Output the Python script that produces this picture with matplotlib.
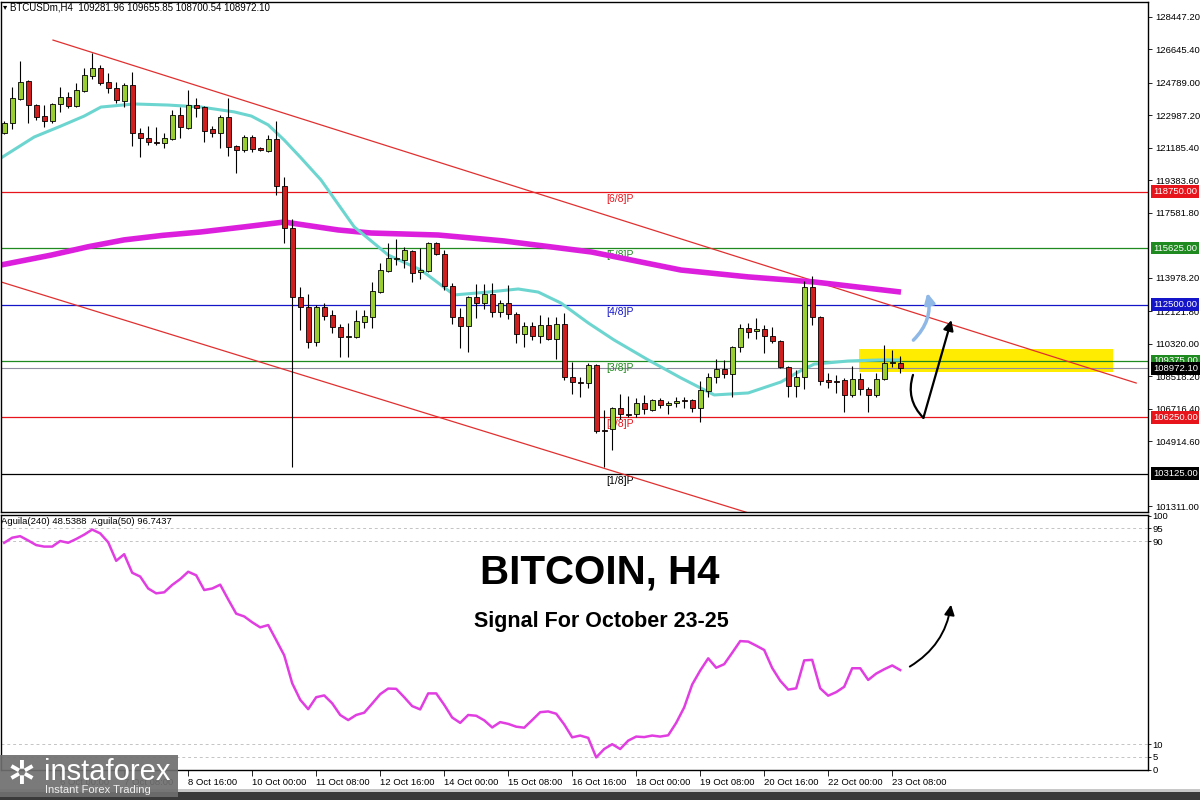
import matplotlib
matplotlib.use("Agg")
import matplotlib.pyplot as plt
import matplotlib.patches as mpatches
import matplotlib.transforms as mtransforms
import numpy as np

# ── OHLC (H4 bars, 4 Oct 20:00 .. 23 Oct 12:00) ─────────────────────────────
OPEN = [122020, 122560, 123890, 124880, 123550, 122940, 122670, 123610, 124000, 123500,
        124330, 125160, 125600, 124830, 124500, 123780, 124660, 122000, 121730, 121500,
        121450, 121670, 123000, 122280, 123550, 123440, 122220, 122000, 122890, 121280,
        121060, 121780, 121170, 121000, 121670, 119070, 116740, 112920, 112360, 110420,
        112360, 111920, 111250, 110700, 110700, 111530, 111810, 113190, 114360, 115020,
        114970, 115470, 114300, 114360, 115910, 115300, 113530, 111810, 111310, 112920,
        112580, 113080, 112090, 112580, 111970, 110870, 111310, 110760, 111370, 110590,
        111420, 108480, 108210, 108150, 109150, 105550, 105600, 106770, 106430, 106430,
        107040, 106660, 107210, 106930, 107040, 107210, 107210, 106770, 107710, 108480,
        108930, 108650, 110150, 111200, 111030, 111140, 110760, 110480, 109040, 107990,
        108480, 113470, 111810, 108320, 108260, 108320, 107490, 108370, 107820, 107490,
        108370, 109260, 109281.96]
HIGH = [122670, 124550, 125990, 124940, 123610, 123550, 123660, 124550, 124270, 124770,
        125600, 126430, 125770, 125330, 124830, 124770, 125380, 122280, 122390, 122330,
        122000, 123280, 123440, 124380, 123940, 123500, 122390, 123000, 123940, 121340,
        121890, 121890, 121230, 121890, 122670, 119560, 117240, 113470, 113080, 112470,
        112580, 112200, 111420, 111480, 112200, 112200, 113750, 114800, 115910, 116130,
        115690, 115520, 115630, 115960, 115960, 115520, 113690, 112310, 112970, 113640,
        113640, 113690, 112750, 113580, 112090, 111530, 111530, 111920, 111810, 111810,
        112030, 109320, 108480, 109260, 109200, 106660, 106820, 107540, 107430, 107320,
        107490, 107270, 107320, 107150, 107380, 107380, 107270, 108260, 108710, 109480,
        109430, 110200, 111420, 111480, 111750, 111370, 111250, 110530, 109090, 108870,
        113800, 114080, 111860, 108710, 108600, 108430, 109090, 108710, 107930, 108710,
        110260, 109980, 109655.85]
LOW = [121950, 122220, 123830, 122560, 122720, 122330, 122560, 123170, 123390, 123440,
       124270, 124990, 124660, 124220, 123660, 123440, 121280, 120670, 121340, 121340,
       121170, 121610, 121730, 122220, 122890, 121500, 121780, 121170, 120730, 119790,
       120950, 120950, 121000, 120950, 118570, 115910, 103500, 111090, 110090, 110200,
       111640, 110920, 109590, 109590, 110650, 111200, 111200, 113140, 114300, 114690,
       114520, 113750, 113910, 114300, 115240, 113300, 111420, 110090, 109870, 111750,
       112250, 111810, 111810, 111700, 110370, 110150, 110530, 110370, 110530, 109480,
       108320, 107540, 107380, 107880, 105380, 103500, 104440, 106160, 106270, 106270,
       106430, 106600, 106770, 106430, 106820, 106770, 106550, 105990, 107380, 108150,
       108430, 107380, 109870, 110650, 110590, 109810, 110370, 108980, 107380, 107380,
       107820, 111370, 108040, 107880, 107600, 106550, 107380, 107490, 106550, 107380,
       108320, 109040, 108700.54]
CLOSE = [122540, 123940, 124830, 123550, 122890, 122670, 123610, 124000, 123500, 124380,
         125220, 125600, 124770, 124500, 123830, 124660, 122000, 121730, 121500, 121450,
         121730, 123000, 122330, 123550, 123390, 122110, 122000, 122890, 121230, 121060,
         121780, 121120, 121060, 121670, 119070, 116740, 112920, 112360, 110420, 112360,
         111860, 111250, 110700, 110760, 111590, 111860, 113250, 114410, 115080, 115080,
         115520, 114250, 114410, 115910, 115300, 113530, 111810, 111310, 112920, 112580,
         113080, 112090, 112580, 111970, 110870, 111310, 110760, 111370, 110590, 111420,
         108480, 108210, 108150, 109150, 105490, 105490, 106770, 106430, 106380, 107040,
         106710, 107210, 106930, 107040, 107150, 107150, 106770, 107760, 108480, 108930,
         108650, 110150, 111200, 110980, 111140, 110760, 110480, 109040, 107990, 108480,
         113470, 111810, 108260, 108210, 108210, 107490, 108370, 107820, 107490, 108370,
         109260, 109282, 108972.10]

# moving averages (bar index, price)
MA_FAST_IDX = [-0.4, 3.75, 7.1, 10, 12.1, 16.25, 20.5, 24.6, 28.75, 30.9, 33, 35, 37.1,
               39.6, 43.75, 48, 52.1, 56.25, 60.5, 64.25, 66.75, 69.6, 73, 76.25, 80.5,
               84.6, 88.75, 93, 97.1, 99.25, 101.25, 105.5, 109.6, 112]
MA_FAST = [120620, 121780, 122390, 122940, 123440, 123610, 123550, 123440, 123170, 122940,
           122450, 121610, 120620, 119400, 116800, 115240, 114410, 113030, 113190, 113360,
           113190, 112580, 111480, 110530, 109430, 108430, 107490, 107600, 108210, 108760,
           109200, 109370, 109430, 109430]
MA_SLOW_IDX = [-0.4, 5.9, 10.5, 15, 19.8, 24.6, 30, 35, 41.75, 45.9, 54.25, 62.5, 73.4,
               84.6, 93, 101.25, 112.1]
MA_SLOW = [114690, 115240, 115700, 116080, 116330, 116520, 116800, 117070, 116630, 116460,
           116350, 116020, 115410, 114410, 114030, 113750, 113190]

# Aguila oscillator, one value per bar
AGUILA = [89.3, 91.3, 91.9, 90.2, 88.4, 87.8, 87.8, 90.0, 89.3, 90.8,
          92.5, 94.5, 93.0, 89.5, 82.2, 84.8, 77.5, 76.0, 71.3, 69.4,
          69.8, 72.7, 75.0, 77.9, 76.5, 70.7, 71.3, 72.8, 67.0, 61.4,
          60.3, 58.0, 56.0, 56.9, 51.0, 45.0, 34.0, 27.5, 23.8, 28.5,
          29.2, 26.1, 21.5, 19.5, 21.5, 22.4, 26.0, 29.7, 31.9, 31.8,
          28.5, 25.0, 23.7, 30.0, 30.0, 25.5, 20.5, 18.4, 21.5, 21.2,
          19.4, 16.6, 18.7, 18.0, 16.9, 16.5, 19.5, 22.6, 22.9, 22.0,
          17.8, 12.7, 13.4, 12.5, 4.8, 8.1, 10.0, 8.1, 11.4, 13.0,
          12.8, 13.4, 13.0, 13.5, 18.4, 24.5, 33.5, 39.0, 43.8, 40.1,
          41.5, 46.0, 50.6, 50.4, 48.8, 47.1, 40.0, 35.0, 31.5, 32.0,
          43.0, 43.2, 32.0, 29.1, 30.5, 32.6, 39.9, 39.9, 35.3, 37.8,
          39.5, 41.0, 39.2]

LEVELS = [118750, 115625, 112500, 109375, 106250, 103125]
LEVEL_NAMES = ["[6/8]P", "[5/8]P", "[4/8]P", "[3/8]P", "[2/8]P", "[1/8]P"]
LAST_PRICE = 108972.10

PRICE_TICKS = [128447.20, 126645.40, 124789.00, 122987.20, 121185.40, 119383.60, 117581.80,
               113978.20, 112121.80, 110320.00, 108518.20, 106716.40, 104914.60, 101311.00]
OSC_TICKS = [100, 95, 90, 10, 5, 0]
OSC_GRID = [95, 90, 10, 5]

TIME_TICK_IDX = [7, 15, 23, 31, 39, 47, 55, 63, 71, 79, 87, 95, 103, 111]
TIME_TICK_LABELS = ["6 Oct 00:00", "7 Oct 08:00", "8 Oct 16:00", "10 Oct 00:00",
                    "11 Oct 08:00", "12 Oct 16:00", "14 Oct 00:00", "15 Oct 08:00",
                    "16 Oct 16:00", "18 Oct 00:00", "19 Oct 08:00", "20 Oct 16:00",
                    "22 Oct 00:00", "23 Oct 08:00"]

# channel lines (bar index, price) end points
CHANNEL_UP = [(6.1, 127150), (141.5, 108150)]
CHANNEL_DN = [(-0.4, 113750), (120, 97260)]
ZONE = (106.9, 138.6, 108760, 110035)

# ── colours ──────────────────────────────────────────────────────────────────
UP_C = "#9acd32"
DN_C = "#d01f1f"
RED = "#e8141c"
GREEN = "#1f8a1f"
BLUE = "#1414c8"
LEVEL_COLORS = [RED, GREEN, BLUE, GREEN, RED, "black"]
CYAN = "#6dd5cf"
MAGENTA = "#dc1fdc"
OSC_C = "#e13ee1"
SMALL = 6.8

plt.rcParams["font.family"] = ["Liberation Sans", "DejaVu Sans"]

fig = plt.figure(figsize=(12, 8), dpi=100)
fig.patch.set_facecolor("white")
W, H = 1200, 800
ax = fig.add_axes([0.001, (H - 512) / H, 1147 / W, 510 / H])
ax2 = fig.add_axes([0.001, (H - 770) / H, 1147 / W, 255 / H], sharex=ax)

xlim = (-0.375, 143)
ax.set_xlim(*xlim)
ax.set_ylim(101005, 129259)

o = np.array(OPEN)
h = np.array(HIGH)
l = np.array(LOW)
c = np.array(CLOSE)
idx = np.arange(len(o))
up = c >= o

# zone + levels
z0, z1, p0, p1 = ZONE
ax.add_patch(mpatches.Rectangle((z0, p0), z1 - z0, p1 - p0, facecolor="#ffec00",
                                edgecolor="none", zorder=0.5))
for lev, name, col in zip(LEVELS, LEVEL_NAMES, LEVEL_COLORS):
    ax.axhline(lev, color=col, lw=0.9, zorder=1)
    ax.annotate(name, (75.2, lev), xytext=(0, -1.5), textcoords="offset points",
                ha="left", va="top", color=col, fontsize=7.5, zorder=1.2)
ax.axhline(LAST_PRICE, color="#8e8ea0", lw=0.8, zorder=1)

# channel
for pts in (CHANNEL_UP, CHANNEL_DN):
    (xa, ya), (xb, yb) = pts
    ax.plot([xa, xb], [ya, yb], color="#e03030", lw=0.9, zorder=1.5)

# moving averages
ax.plot(MA_SLOW_IDX, MA_SLOW, color=MAGENTA, lw=4, zorder=2, solid_capstyle="butt",
        solid_joinstyle="round")
ax.plot(MA_FAST_IDX, MA_FAST, color=CYAN, lw=2.2, zorder=2, solid_joinstyle="round")

# candles
ax.vlines(idx, l, h, color="black", lw=0.8, zorder=3)
body = np.maximum(np.abs(c - o), 45)
ax.bar(idx, body, bottom=np.minimum(o, c), width=0.62,
       color=np.where(up, UP_C, DN_C), edgecolor="black", linewidth=0.6, zorder=4)

# arrows
ax.annotate("", xy=(115.3, 113300), xytext=(113.4, 110420),
            arrowprops=dict(arrowstyle="-|>,head_length=0.6,head_width=0.3",
                            color="#8fb8e6", lw=2.5, connectionstyle="arc3,rad=0.3"),
            zorder=6)
ax.annotate("", xy=(114.9, 106220), xytext=(113.6, 108600),
            arrowprops=dict(arrowstyle="-", color="black", lw=1.6,
                            connectionstyle="arc3,rad=0.3", shrinkA=0, shrinkB=0),
            zorder=6)
ax.annotate("", xy=(118.4, 111640), xytext=(114.9, 106220),
            arrowprops=dict(arrowstyle="-|>,head_length=0.6,head_width=0.3",
                            color="black", lw=1.6, shrinkA=0, shrinkB=0),
            zorder=6)

# right price scale
ax.yaxis.tick_right()
ax.set_yticks(PRICE_TICKS)
ax.set_yticklabels([f"{t:.2f}" for t in PRICE_TICKS])
ax.tick_params(axis="y", direction="out", length=3, width=0.6, labelsize=SMALL, pad=2)
ax.tick_params(axis="x", bottom=False, labelbottom=False)
for s in ax.spines.values():
    s.set_linewidth(1.0)

badge_tr = mtransforms.blended_transform_factory(ax.transAxes, ax.transData)
badges = [(118750, RED), (115625, GREEN), (112500, BLUE), (109375, GREEN),
          (LAST_PRICE, "black"), (106250, RED), (103125, "black")]
for val, col in badges:
    ax.text(1.004, val, f"{val:.2f}", transform=badge_tr, ha="left", va="center",
            fontsize=SMALL, color="white", clip_on=False, zorder=10,
            bbox=dict(boxstyle="square,pad=0.2", facecolor=col, edgecolor="none"))

# ── oscillator panel ────────────────────────────────────────────────────────
ax2.set_ylim(-0.16, 100.24)
for g in OSC_GRID:
    ax2.axhline(g, color="#c4c4c4", lw=0.7, ls=(0, (3, 3)), zorder=1)
ax2.plot(idx, AGUILA, color=OSC_C, lw=1.8, zorder=3)
ax2.annotate("", xy=(118.4, 66), xytext=(112.9, 40),
             arrowprops=dict(arrowstyle="-|>,head_length=0.6,head_width=0.3",
                             color="black", lw=1.4, connectionstyle="arc3,rad=0.25"),
             zorder=6)
ax2.yaxis.tick_right()
ax2.set_yticks(OSC_TICKS)
ax2.set_yticklabels([str(t) for t in OSC_TICKS])
ax2.tick_params(axis="y", direction="out", length=2, width=0.6, labelsize=SMALL, pad=1)
ax2.set_xticks(TIME_TICK_IDX)
ax2.set_xticklabels(TIME_TICK_LABELS)
ax2.tick_params(axis="x", direction="out", length=4, width=0.6, labelsize=SMALL, pad=2)
for lab in ax2.get_xticklabels():
    lab.set_ha("left")
ax2.set_xlim(*xlim)
for s in ax2.spines.values():
    s.set_linewidth(1.0)

# ── texts ───────────────────────────────────────────────────────────────────
fig.text(3 / W, 1 - 7 / H, "▾", fontsize=6, va="center", ha="left", family="DejaVu Sans")
fig.text(10 / W, 1 - 7 / H, "BTCUSDm,H4  109281.96 109655.85 108700.54 108972.10",
         fontsize=7, va="center", ha="left")
fig.text(1 / W, 1 - 522 / H, "Aguila(240) 48.5388  Aguila(50) 96.7437",
         fontsize=SMALL, va="center", ha="left")
fig.text(600 / W, 1 - 573 / H, "BITCOIN, H4", fontsize=29, fontweight="bold",
         ha="center", va="center")
fig.text(601 / W, 1 - 622 / H, "Signal For October 23-25", fontsize=15.5,
         fontweight="bold", ha="center", va="center")

# logo
fig.patches.append(mpatches.Rectangle((0, 1 - 797 / H), 178 / W, 42 / H,
                                      transform=fig.transFigure, facecolor="#6f6f6f",
                                      alpha=0.92, edgecolor="none", zorder=20))
fig.text(22 / W, 1 - 775 / H, "✲", fontsize=24, color="white", ha="center",
         va="center", zorder=21, family="DejaVu Sans")
fig.text(44 / W, 1 - 772 / H, "instaforex", fontsize=21, color="white", ha="left",
         va="center", zorder=21)
fig.text(45 / W, 1 - 790 / H, "Instant Forex Trading", fontsize=8, color="#f0f0f0",
         ha="left", va="center", zorder=21)

# window frame strip at the bottom
fig.patches.append(mpatches.Rectangle((0, 0), 1, 8 / H, transform=fig.transFigure,
                                      facecolor="#3a3a3a", edgecolor="none", zorder=19))
fig.patches.append(mpatches.Rectangle((0, 8 / H), 1, 3 / H, transform=fig.transFigure,
                                      facecolor="#c8c8c8", edgecolor="none", zorder=19))

fig.savefig("out.png", dpi=100, facecolor="white")
plt.close(fig)
